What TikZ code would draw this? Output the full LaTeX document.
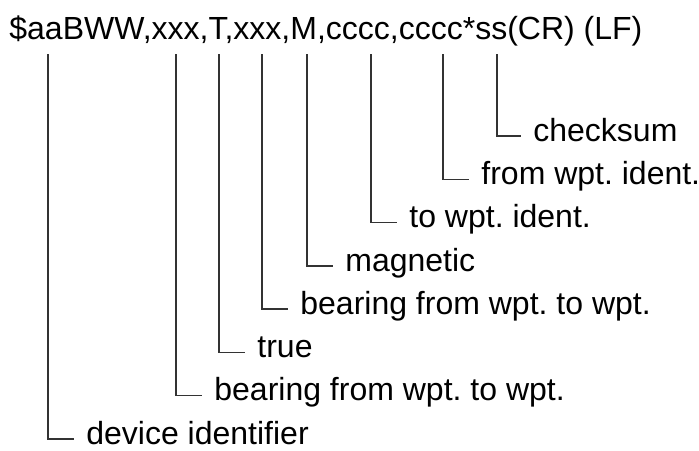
\documentclass[tikz,border=0pt]{standalone}
\usepackage{fontspec}
\setmainfont{Liberation Sans}
\usetikzlibrary{positioning,calc}
\frenchspacing

\begin{document}
\begin{tikzpicture}[x=0.5pt,y=-0.5pt,
    field/.style={anchor=mid west, inner sep=0pt, font=\fontsize{16}{19}\selectfont},
    lead/.style={draw=black!80, line width=0.65pt}]
    \useasboundingbox (0,0) rectangle (699,450);

    % Sentence
    \node[field, anchor=base west] (sentence) at (9,39) {\$aaBWW,xxx,T,xxx,M,cccc,cccc*ss(CR) (LF)};

    % Field tops under the sentence
    \coordinate (devtop) at (48,54);
    \coordinate (brgtop) at (176,54);
    \coordinate (truetop) at (219,54);
    \coordinate (brgmtop) at (262,54);
    \coordinate (magtop) at (307,54);
    \coordinate (totop) at (371,54);
    \coordinate (fromtop) at (443,54);
    \coordinate (cstop) at (497,54);

    % Descriptions
    \node[field] (devtxt) at (86,439) {device identifier};
    \node[field] (brgtxt) at (214,395.7) {bearing from wpt. to wpt.};
    \node[field] (truetxt) at (257,352.4) {true};
    \node[field] (brgmtxt) at (300,309.1) {bearing from wpt. to wpt.};
    \node[field] (magtxt) at (345,265.9) {magnetic};
    \node[field] (totxt) at (409,222.6) {to wpt. ident.};
    \node[field] (fromtxt) at (481,179.3) {from wpt. ident.};
    \node[field] (cstxt) at (533,136) {checksum};

    % Leaders
    \draw[lead] (devtop) |- ($(devtxt.mid west)+(-12,0)$);
    \draw[lead] (brgtop) |- ($(brgtxt.mid west)+(-12,0)$);
    \draw[lead] (truetop) |- ($(truetxt.mid west)+(-12,0)$);
    \draw[lead] (brgmtop) |- ($(brgmtxt.mid west)+(-12,0)$);
    \draw[lead] (magtop) |- ($(magtxt.mid west)+(-12,0)$);
    \draw[lead] (totop) |- ($(totxt.mid west)+(-12,0)$);
    \draw[lead] (fromtop) |- ($(fromtxt.mid west)+(-12,0)$);
    \draw[lead] (cstop) |- ($(cstxt.mid west)+(-12,0)$);
\end{tikzpicture}
\end{document}
